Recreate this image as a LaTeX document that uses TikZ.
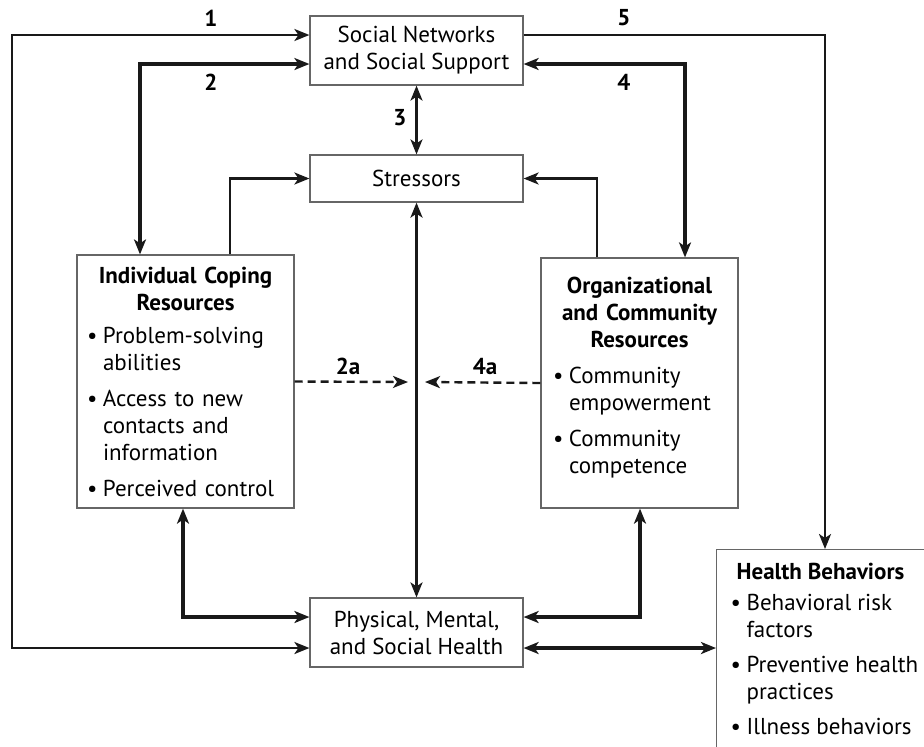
\documentclass[tikz,border=0pt]{standalone}
\usepackage{fontspec}
\setmainfont{PT Sans}
\usetikzlibrary{arrows.meta}

\newcommand{\bul}[1]{\par\hangindent=8pt\hangafter=1\noindent\makebox[8pt][l]{\textbullet}#1\par}

\tikzset{
  box/.style={draw=black!60, line width=0.6pt, align=center, minimum width=106.5pt, inner sep=3pt},
  res/.style={draw=black!60, line width=0.6pt, align=left, inner sep=5pt},
  link/.style={line width=1.2pt, draw=black!90},
  biglink/.style={line width=1.7pt, draw=black!90},
  num/.style={font=\fontsize{11.5}{13.5}\selectfont\bfseries}
}

\begin{document}
\begin{tikzpicture}[x=0.5pt, y=-0.5pt,
    >={Stealth[length=7.5pt,width=6pt,inset=2pt]},
    font=\fontsize{11.5}{13.5}\selectfont]
      \useasboundingbox (0,0) rectangle (924,746);
      % boxes
      \node[box, minimum height=34.5pt] (social) at (416.5,50.5) {Social Networks\\and Social Support};
      \node[box, minimum height=23.5pt] (stress) at (416.5,178.5) {Stressors};
      \node[box, minimum height=34.5pt] (phys) at (416.5,632.5) {Physical, Mental,\\and Social Health};
      \node[res, minimum width=108.5pt, minimum height=126.5pt, text width=98.5pt] (coping) at (185.5,381.5) {%
        {\centering\bfseries Individual Coping\\Resources\par}
        \vspace{3pt}
        \bul{Problem-solving\newline abilities}
        \vspace{4.5pt}
        \bul{Access to new\newline contacts and\newline information}
        \vspace{4.5pt}
        \bul{Perceived control}};
      \node[res, inner sep=6pt, minimum width=98.5pt, minimum height=125pt, text width=86.5pt] (orgres) at (639.5,383) {%
        {\centering\bfseries Organizational\\and Community\\Resources\par}
        \vspace{4.5pt}
        \bul{Community\newline empowerment}
        \vspace{4.5pt}
        \bul{Community\newline competence}
        \nointerlineskip\vbox to 5pt{}};
      \node[res, inner sep=7pt, anchor=north west] (health) at (716,549) {%
        \parbox[t][135pt][t]{130pt}{\raggedright
        \hspace*{3pt}\textbf{Health Behaviors}\par
        \vspace{2pt}
        \bul{Behavioral risk\newline factors}
        \vspace{4pt}
        \bul{Preventive health\newline practices}
        \vspace{4pt}
        \bul{Illness behaviors}}};
      % free ends
      \coordinate (rail) at (12,340);
      \coordinate (tip2a) at (408,382);
      \coordinate (tip4a) at (425,382);
      \coordinate (pe) at ([yshift=-7.75pt]phys.east);
      % connectors
      \draw[link, <->] ([yshift=7.75pt]social.west) -| (rail) |- ([yshift=-7.75pt]phys.west);
      \draw[biglink, <->] ([yshift=-6.75pt]social.west) -| ([xshift=-22.75pt]coping.north);
      \draw[link, <->] (social.south) -- (stress.north);
      \draw[biglink, <->] ([yshift=-6.75pt]social.east) -| ([xshift=22.75pt]orgres.north);
      \draw[link, ->] ([yshift=7.75pt]social.east) -| ([xshift=54.5pt]health.north west);
      \draw[link, ->] ([xshift=22.25pt]coping.north) |- (stress.west);
      \draw[link, ->] ([xshift=-21.25pt]orgres.north) |- (stress.east);
      \draw[biglink, <->] (stress.south) -- (phys.north);
      \draw[link, dash pattern=on 4pt off 2.5pt, ->] (coping.east) -- (tip2a);
      \draw[link, dash pattern=on 4pt off 2.5pt, ->] (orgres.west) -- (tip4a);
      \draw[biglink, <->] ([yshift=7.75pt]phys.west) -| ([xshift=-1.25pt]coping.south);
      \draw[biglink, <->] ([yshift=7.75pt]phys.east) -| ([xshift=0.25pt]orgres.south);
      \draw[biglink, <->] (pe) -- (pe -| health.west);
      % labels
      \node[num] (n1) at (211,18) {1};
      \node[num] (n2) at (211,82) {2};
      \node[num] (n3) at (400,118) {3};
      \node[num] (n4) at (624,82) {4};
      \node[num] (n5) at (624,18) {5};
      \node[num] (n2a) at (348,366) {2a};
      \node[num] (n4a) at (485,366) {4a};
    \end{tikzpicture}
\end{document}
